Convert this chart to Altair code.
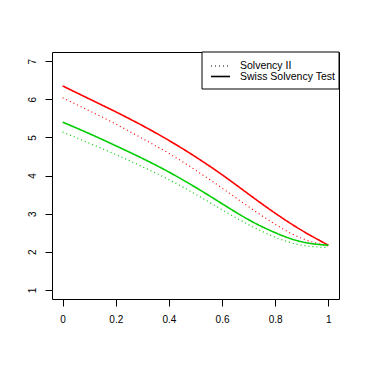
import altair as alt
import pandas as pd

x = [0.0, 0.1, 0.2, 0.3, 0.4, 0.5, 0.6, 0.7, 0.8, 0.9, 1.0]
red_sst = [6.35, 6.01, 5.67, 5.31, 4.92, 4.49, 4.02, 3.51, 3.01, 2.56, 2.17]
red_s2 = [6.04, 5.70, 5.35, 4.97, 4.58, 4.14, 3.67, 3.18, 2.72, 2.35, 2.15]
green_sst = [5.40, 5.10, 4.78, 4.45, 4.09, 3.69, 3.26, 2.84, 2.50, 2.26, 2.17]
green_s2 = [5.14, 4.85, 4.55, 4.23, 3.89, 3.51, 3.10, 2.71, 2.38, 2.17, 2.11]

x_ticks = [0, 0.2, 0.4, 0.6, 0.8, 1]
y_ticks = [1, 2, 3, 4, 5, 6, 7]
legend_labels = ["Solvency II", "Swiss Solvency Test"]

rows = []
for name, col, sty, vals in [
    ("red_sst", "red", "Swiss Solvency Test", red_sst),
    ("red_s2", "red", "Solvency II", red_s2),
    ("green_sst", "green", "Swiss Solvency Test", green_sst),
    ("green_s2", "green", "Solvency II", green_s2),
]:
    for xi, yi in zip(x, vals):
        rows.append({"x": xi, "y": yi, "series": name, "col": col, "style": sty})
df = pd.DataFrame(rows)

xs = alt.Scale(domain=[-0.04, 1.04], nice=False, zero=False)
ys = alt.Scale(domain=[0.76, 7.24], nice=False, zero=False)

lines = alt.Chart(df).mark_line(interpolate="natural").encode(
    x=alt.X("x:Q", scale=xs, title=None,
            axis=alt.Axis(values=x_ticks, format="~g", grid=False, domain=False,
                          tickSize=7, tickColor="black", labelPadding=8,
                          labelFontSize=10, labelColor="black", labelFont="Liberation Sans")),
    y=alt.Y("y:Q", scale=ys, title=None,
            axis=alt.Axis(values=y_ticks, grid=False, domain=False,
                          tickSize=7, tickColor="black", labelAngle=270,
                          labelAlign="center", labelBaseline="bottom", labelPadding=8,
                          labelFontSize=10, labelColor="black", labelFont="Liberation Sans")),
    color=alt.Color("col:N", scale=alt.Scale(domain=["red", "green"], range=["#FF0000", "#00CD00"]), legend=None),
    strokeDash=alt.StrokeDash("style:N", scale=alt.Scale(domain=["Solvency II", "Swiss Solvency Test"],
                                                         range=[[1, 3], [1, 0]]), legend=None),
    strokeWidth=alt.StrokeWidth("style:N", scale=alt.Scale(domain=["Solvency II", "Swiss Solvency Test"],
                                                           range=[1.2, 1.6]), legend=None),
    detail="series:N",
)

leg_df = pd.DataFrame({"label": legend_labels, "row": [0, 1]})
box = alt.Chart(leg_df).mark_rect(fill="white", stroke="black", strokeWidth=1).encode(
    x=alt.value(150), x2=alt.value(287), y=alt.value(0), y2=alt.value(37)
).transform_filter("datum.row == 0")
leg_dot = alt.Chart(leg_df).mark_rule(strokeDash=[1, 3], strokeWidth=1.2, color="black").encode(
    x=alt.value(159), x2=alt.value(178), y=alt.value(14)
).transform_filter("datum.row == 0")
leg_solid = alt.Chart(leg_df).mark_rule(strokeWidth=1.6, color="black").encode(
    x=alt.value(159), x2=alt.value(178), y=alt.value(24.5)
).transform_filter("datum.row == 0")
leg_text1 = alt.Chart(leg_df).mark_text(align="left", baseline="middle", fontSize=10.5,
                                          font="Liberation Sans", color="black").encode(
    x=alt.value(188), y=alt.value(14), text="label:N"
).transform_filter("datum.row == 0")
leg_text2 = alt.Chart(leg_df).mark_text(align="left", baseline="middle", fontSize=10.5,
                                          font="Liberation Sans", color="black").encode(
    x=alt.value(188), y=alt.value(24.5), text="label:N"
).transform_filter("datum.row == 1")

chart = alt.layer(lines, box, leg_dot, leg_solid, leg_text1, leg_text2).properties(
    width=287, height=247,
    autosize=alt.AutoSizeParams(type="none"),
    padding={"left": 44, "top": 44, "right": 10, "bottom": 50},
).configure_view(stroke="black", strokeWidth=1)

chart.save("out.html", embed_options={"renderer": "svg", "actions": False})
